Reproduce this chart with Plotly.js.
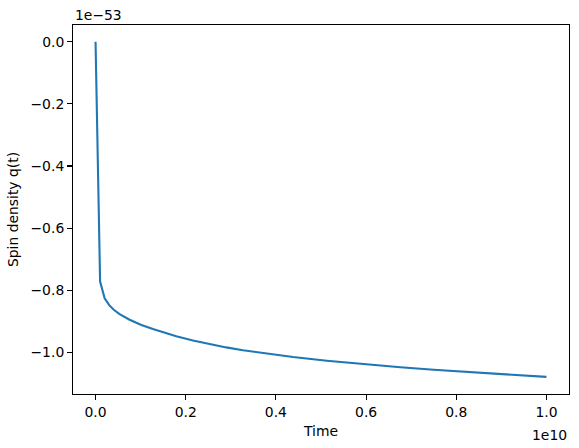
<!DOCTYPE html>
<html>
<head>
<meta charset="utf-8">
<script src="https://cdn.plot.ly/plotly-3.0.1.min.js"></script>
<style>
  html, body { margin: 0; padding: 0; background: #fff; }
  #plot { width: 579px; height: 448px; }
</style>
</head>
<body>
<div id="plot"></div>
<script>
// time in units of 1e10, spin density in units of 1e-53
var time = [0, 0.0101, 0.0202, 0.0303, 0.0404, 0.0533, 0.0756, 0.1016, 0.1273, 0.142,
            0.179, 0.216, 0.253, 0.290, 0.327, 0.364, 0.438, 0.513, 0.587, 0.676,
            0.750, 0.824, 0.898, 1.0];
var spin = [0, -0.772, -0.826, -0.848, -0.863, -0.877, -0.895, -0.912, -0.925, -0.932,
            -0.948, -0.962, -0.974, -0.984, -0.993, -1.001, -1.015, -1.027, -1.037, -1.048,
            -1.056, -1.063, -1.070, -1.079];

var xTicks = [0, 0.2, 0.4, 0.6, 0.8, 1.0];
var yTicks = [0, -0.2, -0.4, -0.6, -0.8, -1.0];

var font = {family: 'DejaVu Sans', size: 13.9, color: '#000'};

var data = [
    {
        type: 'scatter',
        mode: 'lines',
        x: time,
        y: spin,
        line: {color: '#1f77b4', width: 2.1},
        hoverinfo: 'skip'
    }
];

var axisStyle = {
    showline: true,
    mirror: true,
    linecolor: '#000',
    linewidth: 1.1,
    ticks: 'outside',
    ticklen: 4.9,
    tickwidth: 1.1,
    tickcolor: '#000',
    showgrid: false,
    zeroline: false,
    tickfont: font,
    tickformat: '.1f'
};

var layout = {
    width: 579,
    height: 448,
    margin: {l: 73, r: 10, t: 25, b: 54},
    paper_bgcolor: '#fff',
    plot_bgcolor: '#fff',
    showlegend: false,
    font: font,
    xaxis: Object.assign({}, axisStyle, {
        range: [-0.05, 1.05],
        tickvals: xTicks,
        title: {text: 'Time', font: font, standoff: 7}
    }),
    yaxis: Object.assign({}, axisStyle, {
        range: [-1.134, 0.054],
        tickvals: yTicks,
        title: {text: 'Spin density q(t)', font: font, standoff: 8}
    }),
    annotations: [
        {
            text: '1e\u221253', xref: 'paper', yref: 'paper', x: 0, y: 1,
            xanchor: 'left', yanchor: 'bottom', showarrow: false, font: font
        },
        {
            text: '1e10', xref: 'paper', yref: 'paper', x: 1, y: 0,
            xanchor: 'right', yanchor: 'top', showarrow: false, font: font, yshift: -31
        }
    ]
};

Plotly.newPlot('plot', data, layout, {staticPlot: true});
</script>
</body>
</html>
